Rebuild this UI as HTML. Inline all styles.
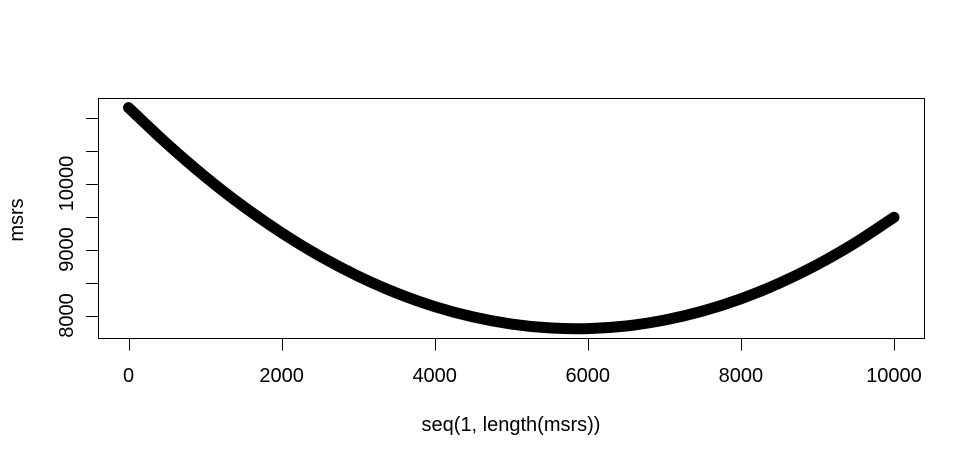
<!DOCTYPE html>
<html><head><meta charset="utf-8"><style>
html,body{margin:0;padding:0;background:#fff;}
svg{display:block;font-family:"Liberation Sans",Arial,sans-serif;}
</style></head><body>
<svg id="chart" width="976" height="461" viewBox="0 0 976 461" xmlns="http://www.w3.org/2000/svg">
<rect x="0" y="0" width="976" height="461" fill="#fff"/>
<rect x="98.5" y="98.5" width="826" height="240" fill="none" stroke="#000" stroke-width="1"/>
<g id="xaxis"></g>
<g id="yaxis"></g>
<g id="series"></g>
<text x="511" y="431" font-size="20" text-anchor="middle">seq(1, length(msrs))</text>
<text x="23" y="220" font-size="20" text-anchor="middle" transform="rotate(-90 23 220)">msrs</text>
</svg>
<script>
const xValues=[0,500,1000,1500,2000,2500,3000,3500,4000,4500,5000,5500,6000,6500,7000,7500,8000,8500,9000,9500,10000];
const yValues=[11150,10605,10105,9654,9253,8900,8596,8341,8135,7979,7871,7812,7802,7841,7930,8067,8253,8488,8772,9105,9488];
const xTicks=[0,2000,4000,6000,8000,10000];
const yTicks=[8000,8500,9000,9500,10000,10500,11000];
const yLabels=[8000,9000,10000];
const NS="http://www.w3.org/2000/svg";
function sx(v){return 128.5+v*(894-128.5)/10000;}
function sy(v){return 315.5-(v-8000)*66/1000;}
function mk(tag,attrs,parent){const e=document.createElementNS(NS,tag);for(const k in attrs)e.setAttribute(k,attrs[k]);parent.appendChild(e);return e;}
const xa=document.getElementById('xaxis'),ya=document.getElementById('yaxis'),se=document.getElementById('series');
xTicks.forEach(t=>{
  const x=Math.round(sx(t))+0.5;
  const l=mk('line',{x1:x,x2:x,y1:338.5,y2:350.5,stroke:'#000'},xa);
  
  
  const tx=mk('text',{x:sx(t),y:382,'font-size':20,'text-anchor':'middle'},xa);
  tx.textContent=t;
  
  
});
yTicks.forEach(t=>{
  const y=Math.round(sy(t))+0.5;
  const l=mk('line',{x1:86,x2:98.5,y1:y,y2:y,stroke:'#000'},ya);
  
  
});
yLabels.forEach(t=>{
  const x=73,y=sy(t);
  const tx=mk('text',{x:x,y:y,'font-size':20,'text-anchor':'middle',transform:`rotate(-90 ${x} ${y})`},ya);
  tx.textContent=t;
  
  
});
const P=xValues.map((x,i)=>[sx(x),sy(yValues[i])]);
let d='M'+P[0][0]+','+P[0][1];
for(let i=0;i<P.length-1;i++){
  const p0=P[Math.max(0,i-1)],p1=P[i],p2=P[i+1],p3=P[Math.min(P.length-1,i+2)];
  const c1=[p1[0]+(p2[0]-p0[0])/6,p1[1]+(p2[1]-p0[1])/6];
  const c2=[p2[0]-(p3[0]-p1[0])/6,p2[1]-(p3[1]-p1[1])/6];
  d+=' C'+c1[0]+','+c1[1]+' '+c2[0]+','+c2[1]+' '+p2[0]+','+p2[1];
}
const pl=mk('path',{d:d,fill:'none',stroke:'#000','stroke-width':11,'stroke-linecap':'round','stroke-linejoin':'round'},se);


</script>
</body></html>
